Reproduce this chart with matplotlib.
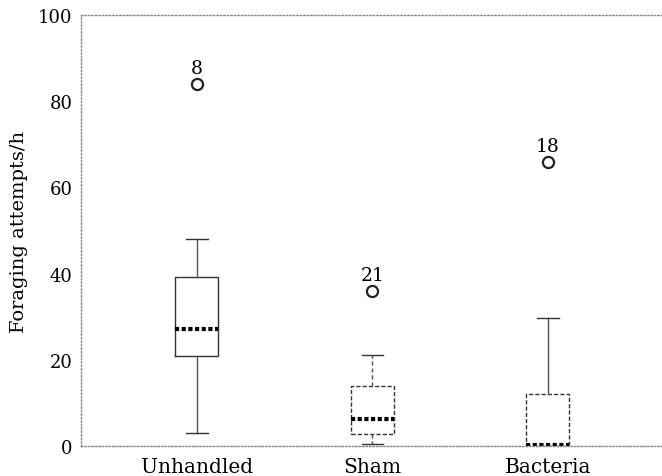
import matplotlib
matplotlib.use("Agg")
import matplotlib.pyplot as plt

groups = ["Unhandled", "Sham", "Bacteria"]
whislo = [3.0, 0.5, 0.0]
q1 = [20.9, 2.8, 0.0]
med = [27.1, 6.3, 0.3]
q3 = [39.2, 13.9, 12.0]
whishi = [48.0, 21.0, 29.7]
outliers = [[84.0], [36.0], [66.0]]
outlier_labels = ["8", "21", "18"]
yticks = [0, 20, 40, 60, 80, 100]

plt.rcParams['font.family'] = ['DejaVu Serif']

fig = plt.figure(figsize=(6.62, 4.77), dpi=100)
ax = fig.add_axes([81/662, 1-447/477, (662-81)/662, (447-16)/477])

stats = []
for i, g in enumerate(groups):
    stats.append(dict(label=g, whislo=whislo[i], q1=q1[i], med=med[i], q3=q3[i],
                      whishi=whishi[i], fliers=outliers[i]))

pos = [1, 2, 3]
bp = ax.bxp(stats, positions=pos, widths=0.245, patch_artist=False,
            boxprops=dict(color='#333333', linewidth=1.0),
            whiskerprops=dict(color='#555555', linewidth=1.0),
            capprops=dict(color='#333333', linewidth=1.0),
            medianprops=dict(color='black', linewidth=3.0, linestyle=(0, (1, 0.6))),
            flierprops=dict(marker='o', markerfacecolor='none', markeredgecolor='#222222',
                            markersize=8, markeredgewidth=1.6, linestyle='none'))
for ln in bp['whiskers'][2:4]:
    ln.set_linestyle((0, (3, 2)))
bp['boxes'][1].set_linestyle((0, (3, 1.5)))
bp['boxes'][2].set_linestyle((0, (3, 1.5)))

for i, lab in enumerate(outlier_labels):
    ax.annotate(lab, (pos[i], outliers[i][0]), xytext=(0, 5), textcoords='offset points',
                ha='center', va='bottom', fontsize=13.5)

ax.set_xlim(0.34, 3.65)
ax.set_ylim(0, 100)
ax.set_yticks(yticks)
ax.set_xticks(pos)
ax.set_xticklabels(groups)
ax.tick_params(axis='y', length=0, labelsize=13, pad=6)
ax.tick_params(axis='x', length=0, labelsize=14.5, pad=8)
ax.set_ylabel("Foraging attempts/h", fontsize=14, labelpad=7)
for s in ['top', 'bottom', 'left']:
    ax.spines[s].set_linestyle((0, (1, 1.5)))
    ax.spines[s].set_linewidth(1.0)
    ax.spines[s].set_color('#888888')
ax.spines['right'].set_visible(False)

fig.savefig("out.png", dpi=100)
